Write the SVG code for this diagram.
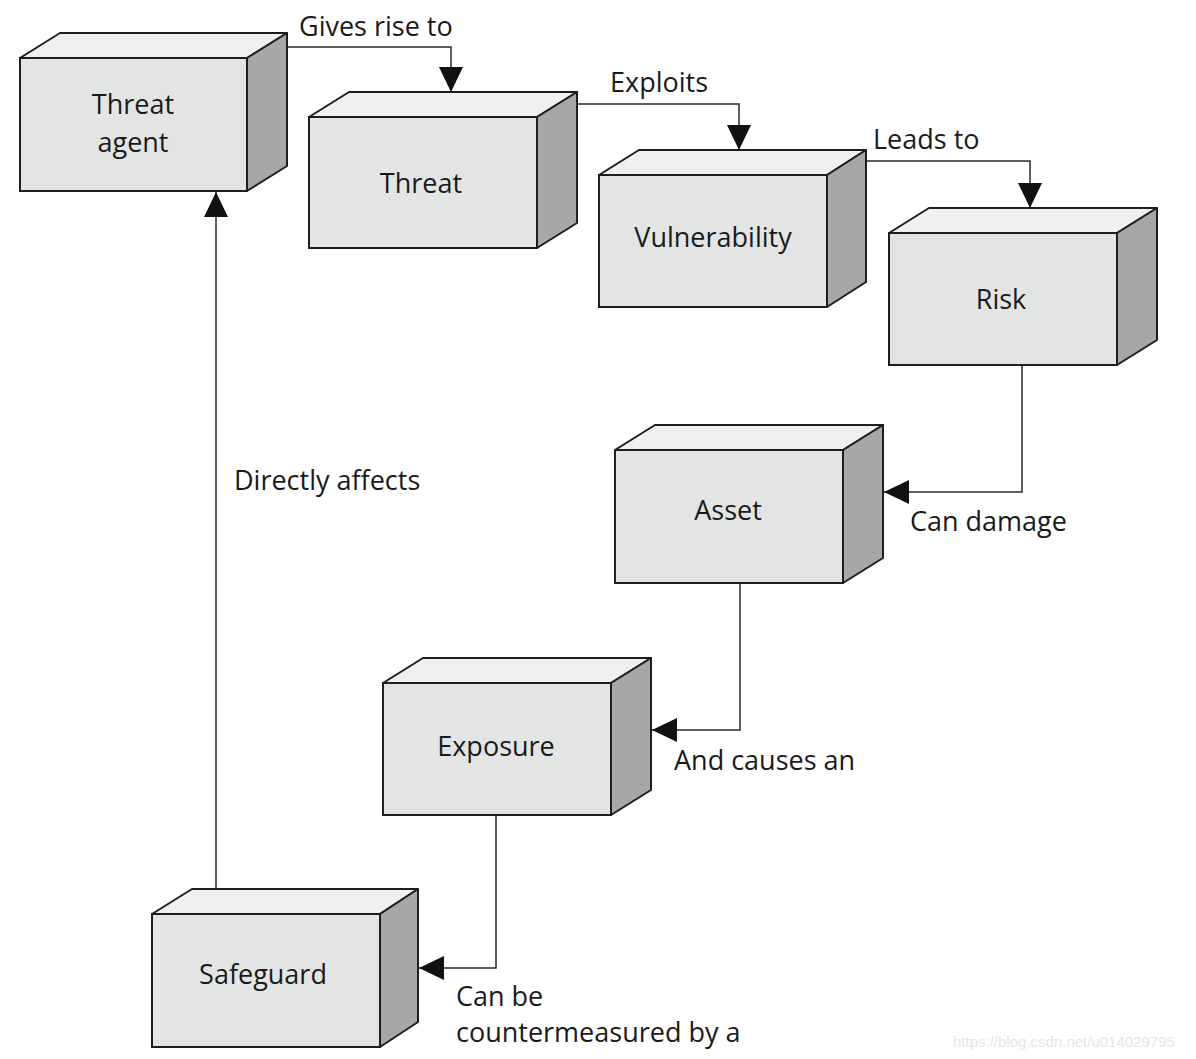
<svg xmlns="http://www.w3.org/2000/svg" width="1196" height="1059" viewBox="0 0 1196 1059">
<style>
.front{fill:#e3e5e5;stroke:#1e1e1e;stroke-width:2}
.top{fill:#eff1f1;stroke:#1e1e1e;stroke-width:2;stroke-linejoin:round}
.side{fill:#a5a7a8;stroke:#1e1e1e;stroke-width:2;stroke-linejoin:round}
.lbl{font-family:"Open Sans","Noto Sans",sans-serif;font-size:27px;fill:#1a1a1a;text-anchor:middle}
.edge{font-family:"Open Sans","Noto Sans",sans-serif;font-size:27px;fill:#1a1a1a}
.conn{fill:none;stroke:#2a2a2a;stroke-width:1.5}
.wm{font-family:"Liberation Sans",Arial,sans-serif;font-size:15px;fill:#e6e6e6}
</style>
<defs>
<marker id="arr" markerUnits="userSpaceOnUse" markerWidth="26" markerHeight="24" refX="25" refY="12" orient="auto">
<path d="M0,0 L25,12 L0,24 z" fill="#111"/>
</marker>
</defs>
<rect width="1196" height="1059" fill="#ffffff"/>

<g id="connectors">
<path class="conn" d="M287,47 H451 V92" marker-end="url(#arr)"/>
<path class="conn" d="M577,104 H739 V150" marker-end="url(#arr)"/>
<path class="conn" d="M866,161 H1030 V208" marker-end="url(#arr)"/>
<path class="conn" d="M1022,365 V492 H884" marker-end="url(#arr)"/>
<path class="conn" d="M740,583 V730 H652" marker-end="url(#arr)"/>
<path class="conn" d="M496,815 V968 H419" marker-end="url(#arr)"/>
<path class="conn" d="M216,889 V192" marker-end="url(#arr)"/>
<text class="edge" x="299" y="36">Gives rise to</text>
<text class="edge" x="610" y="92">Exploits</text>
<text class="edge" x="873" y="149">Leads to</text>
<text class="edge" x="234" y="490">Directly affects</text>
<text class="edge" x="910" y="531">Can damage</text>
<text class="edge" x="674" y="770">And causes an</text>
<text class="edge" x="456" y="1006">Can be</text>
<text class="edge" x="456" y="1042">countermeasured by a</text>
</g>

<g id="threat-agent">
<polygon class="top" points="20,58 60,33 287,33 247,58"/>
<polygon class="side" points="247,58 287,33 287,166 247,191"/>
<rect class="front" x="20" y="58" width="227" height="133"/>
<text class="lbl" x="133" y="114">Threat</text>
<text class="lbl" x="133" y="152">agent</text>
</g>

<g id="threat">
<polygon class="top" points="309,117 349,92 577,92 537,117"/>
<polygon class="side" points="537,117 577,92 577,223 537,248"/>
<rect class="front" x="309" y="117" width="228" height="131"/>
<text class="lbl" x="421" y="193">Threat</text>
</g>

<g id="vulnerability">
<polygon class="top" points="599,175 639,150 866,150 827,175"/>
<polygon class="side" points="827,175 866,150 866,282 827,307"/>
<rect class="front" x="599" y="175" width="228" height="132"/>
<text class="lbl" x="713" y="247">Vulnerability</text>
</g>

<g id="risk">
<polygon class="top" points="889,233 929,208 1157,208 1117,233"/>
<polygon class="side" points="1117,233 1157,208 1157,340 1117,365"/>
<rect class="front" x="889" y="233" width="228" height="132"/>
<text class="lbl" x="1001" y="309">Risk</text>
</g>

<g id="asset">
<polygon class="top" points="615,450 655,425 883,425 843,450"/>
<polygon class="side" points="843,450 883,425 883,558 843,583"/>
<rect class="front" x="615" y="450" width="228" height="133"/>
<text class="lbl" x="728" y="520">Asset</text>
</g>

<g id="exposure">
<polygon class="top" points="383,683 423,658 651,658 611,683"/>
<polygon class="side" points="611,683 651,658 651,790 611,815"/>
<rect class="front" x="383" y="683" width="228" height="132"/>
<text class="lbl" x="496" y="756">Exposure</text>
</g>

<g id="safeguard">
<polygon class="top" points="152,914 192,889 418,889 380,914"/>
<polygon class="side" points="380,914 418,889 418,1022 380,1047"/>
<rect class="front" x="152" y="914" width="228" height="133"/>
<text class="lbl" x="263" y="984">Safeguard</text>
</g>

<text class="wm" x="953" y="1047">https://blog.csdn.net/u014029795</text>
</svg>
